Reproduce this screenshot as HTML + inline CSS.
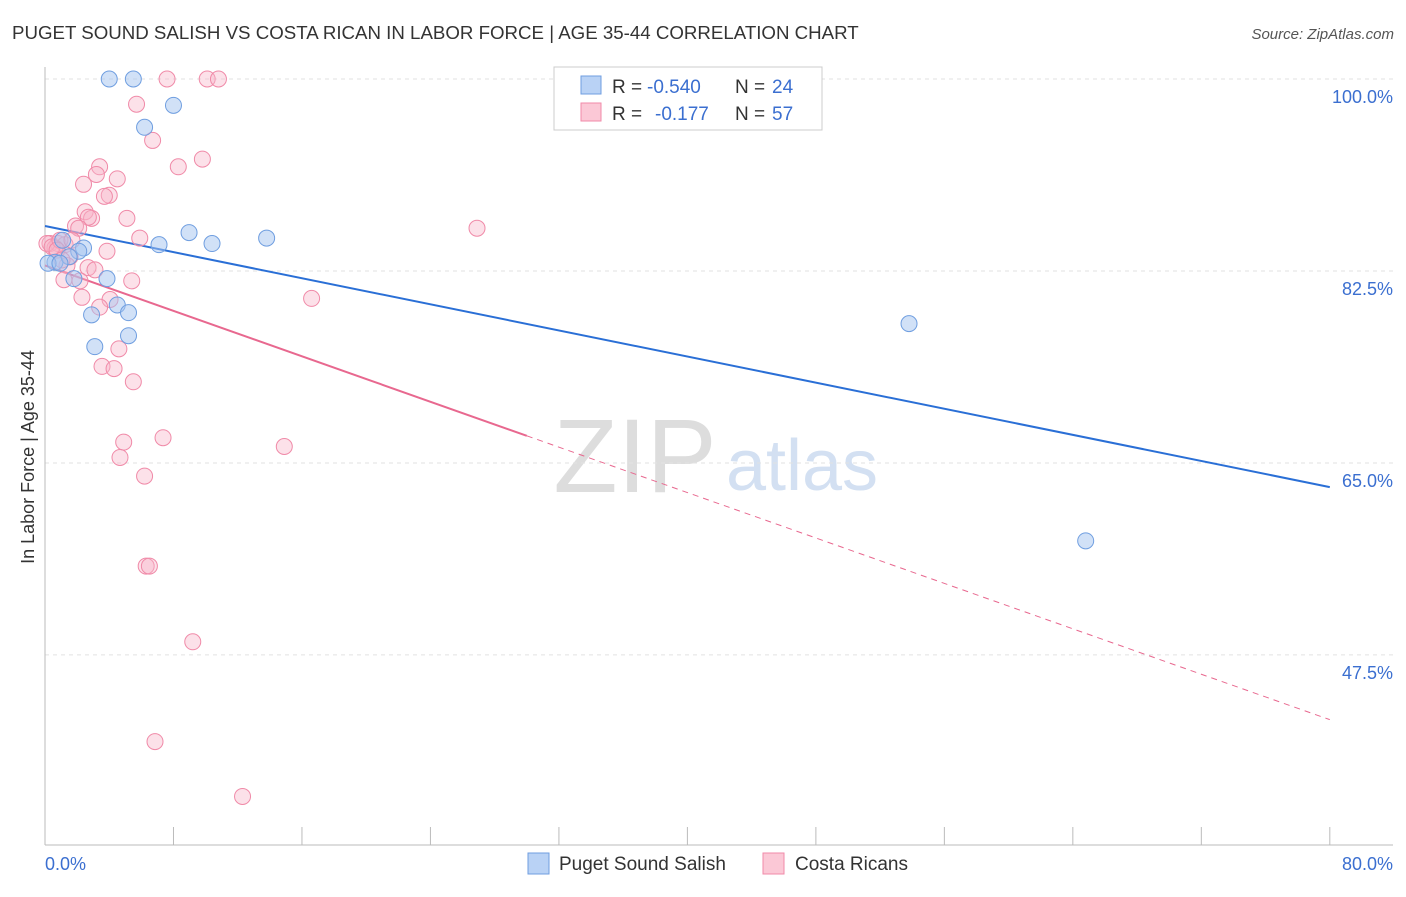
<!DOCTYPE html>
<html><head><meta charset="utf-8"><style>
body{margin:0;background:#fff;font-family:"Liberation Sans",sans-serif}
svg text{font-family:"Liberation Sans",sans-serif}
</style></head><body>
<svg width="1406" height="892" xmlns="http://www.w3.org/2000/svg">
<text x="12" y="39" font-size="18.7" fill="#333">PUGET SOUND SALISH VS COSTA RICAN IN LABOR FORCE | AGE 35-44 CORRELATION CHART</text>
<text x="1394" y="39" font-size="15" fill="#555" font-style="italic" text-anchor="end">Source: ZipAtlas.com</text>
<g><text x="635" y="492" font-size="105" fill="#ddd" font-family="Liberation Serif" text-anchor="middle">ZIP</text><text x="802" y="490" font-size="72" fill="#d3e0f2" text-anchor="middle">atlas</text></g>
<g id="grid"></g><g id="axes"></g><g id="lines"></g><g id="pts"></g>
<text x="34" y="457" font-size="18" fill="#333" transform="rotate(-90 34 457)" text-anchor="middle">In Labor Force | Age 35-44</text>
<text x="45" y="870" font-size="18" fill="#3b6fd0">0.0%</text>
<text x="1393" y="870" font-size="18" fill="#3b6fd0" text-anchor="end">80.0%</text>
<g>
<rect x="554" y="67" width="268" height="63" fill="#fff" stroke="#ccc"/>
<rect x="581" y="76" width="20" height="18" fill="#b9d2f5" stroke="#6f9ee0"/>
<rect x="581" y="103" width="20" height="18" fill="#fbc8d6" stroke="#f08aa8"/>
<text y="93" font-size="19" fill="#333"><tspan x="612">R =</tspan><tspan x="647" fill="#3b6fd0">-0.540</tspan><tspan x="735">N =</tspan><tspan x="772" fill="#3b6fd0">24</tspan></text>
<text y="120" font-size="19" fill="#333"><tspan x="612">R =</tspan><tspan x="655" fill="#3b6fd0">-0.177</tspan><tspan x="735">N =</tspan><tspan x="772" fill="#3b6fd0">57</tspan></text>
</g>
<g>
<rect x="528" y="853" width="21" height="21" fill="#b9d2f5" stroke="#6f9ee0"/>
<text x="559" y="870" font-size="19" fill="#333">Puget Sound Salish</text>
<rect x="763" y="853" width="21" height="21" fill="#fbc8d6" stroke="#f08aa8"/>
<text x="795" y="870" font-size="19" fill="#333">Costa Ricans</text>
</g>
</svg>
<script>
const yTicks=[100,82.5,65,47.5];
const blueX=[4.0,5.5,8.0,6.2,8.97,10.4,7.1,13.8,2.4,2.1,1.1,0.62,0.19,1.5,3.86,1.8,4.5,5.2,2.9,5.2,3.1,53.8,64.8,0.93];
const blueY=[100,100,97.6,95.6,86.0,85.0,84.9,85.5,84.6,84.3,85.3,83.3,83.2,83.8,81.8,81.8,79.4,78.7,78.5,76.6,75.6,77.7,57.9,83.2];
const pinkX=[7.6,10.1,10.8,5.7,6.7,9.8,8.3,3.4,3.2,4.5,2.4,4.0,3.7,2.5,2.9,5.1,2.7,1.9,2.1,26.9,5.9,0.31,0.81,1.25,0.62,3.86,1.56,1.37,2.68,3.11,2.18,5.4,1.18,4.05,2.3,16.6,3.4,4.6,3.55,4.3,5.5,4.9,7.35,14.9,4.67,6.2,6.3,6.5,9.2,6.85,12.3,0.12,0.44,0.93,1.68,0.75,1.06];
const pinkY=[100,100,100,97.7,94.4,92.7,92.0,92.0,91.3,90.9,90.4,89.4,89.3,87.9,87.3,87.3,87.4,86.6,86.4,86.4,85.5,85.0,85.0,84.9,84.6,84.3,83.8,83.0,82.8,82.6,81.6,81.6,81.7,79.9,80.1,80.0,79.2,75.4,73.8,73.6,72.4,66.9,67.3,66.5,65.5,63.8,55.6,55.6,48.7,39.6,34.6,85.0,84.7,85.3,85.3,84.4,83.5];
const blueFit=[86.6,62.8];
const pinkFit=[83.0,41.6];
const X=v=>45+v*16.06, Y=v=>79+(100-v)*10.97;
const NS="http://www.w3.org/2000/svg";
function mk(t,a,p){const e=document.createElementNS(NS,t);for(const k in a)e.setAttribute(k,a[k]);p.appendChild(e);return e;}
const grid=document.getElementById('grid'),axes=document.getElementById('axes'),lines=document.getElementById('lines'),pts=document.getElementById('pts');
yTicks.forEach(t=>{const l=mk('line',{x1:45,x2:1393,y1:Y(t),y2:Y(t),stroke:'#e2e2e2','stroke-dasharray':'4,4'},grid);


const tx=mk('text',{x:1393,y:Y(t)+24,'font-size':18,fill:'#3b6fd0','text-anchor':'end'},grid);tx.textContent=t.toFixed(1)+'%';

});
mk('line',{x1:45,x2:45,y1:67,y2:845,stroke:'#bbb'},axes);
mk('line',{x1:45,x2:1393,y1:845,y2:845,stroke:'#bbb'},axes);
for(let i=0;i<=10;i++){const t=mk('line',{x1:X(i*8),x2:X(i*8),y1:827,y2:845,stroke:'#bbb'},axes);

}
const bl=mk('line',{x1:X(0),y1:Y(blueFit[0]),x2:X(80),y2:Y(blueFit[1]),stroke:'#2a6fd6','stroke-width':2},lines);


const pxm=30;const py=v=>pinkFit[0]+(pinkFit[1]-pinkFit[0])*v/80;
const pl=mk('line',{x1:X(0),y1:Y(py(0)),x2:X(pxm),y2:Y(py(pxm)),stroke:'#e8688f','stroke-width':2},lines);


const pd=mk('line',{x1:X(pxm),y1:Y(py(pxm)),x2:X(80),y2:Y(py(80)),stroke:'#e8688f','stroke-width':1,'stroke-dasharray':'6,5'},lines);


pinkX.forEach((x,i)=>{const c=mk('circle',{cx:X(x),cy:Y(pinkY[i]),r:8,fill:'rgba(248,180,200,0.4)',stroke:'#f08aa8','stroke-width':1},pts);

});
blueX.forEach((x,i)=>{const c=mk('circle',{cx:X(x),cy:Y(blueY[i]),r:8,fill:'rgba(164,196,240,0.5)',stroke:'#6f9ee0','stroke-width':1},pts);

});
</script>
</body></html>
